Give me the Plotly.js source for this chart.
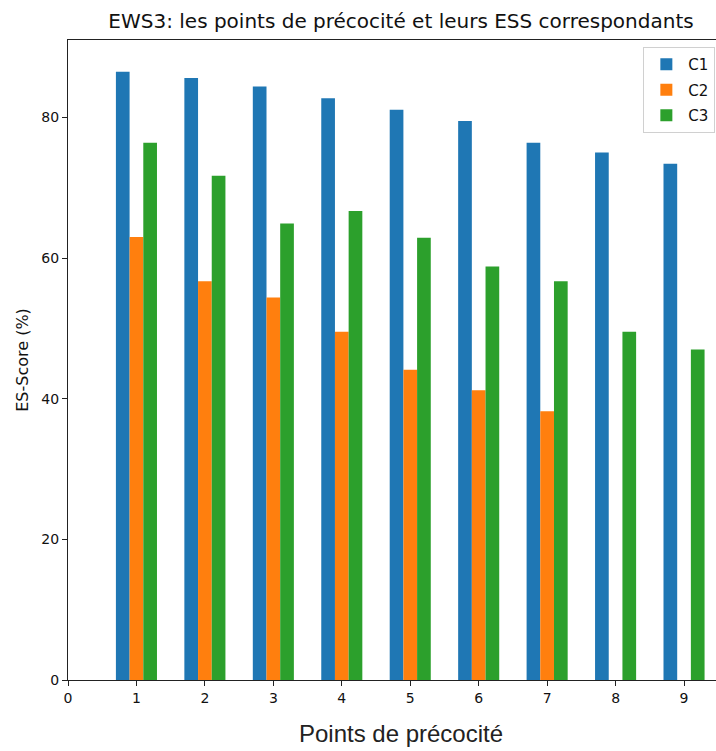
<!DOCTYPE html>
<html>
<head>
<meta charset="utf-8">
<script src="https://cdn.plot.ly/plotly-3.0.1.min.js"></script>
<style>
  html, body { margin: 0; padding: 0; overflow: hidden; background: #fff; }
  #chart { width: 760px; height: 751px; }
</style>
</head>
<body>
<div id="chart"></div>
<script>
const points = [1, 2, 3, 4, 5, 6, 7, 8, 9];
const c1 = [86.5, 85.6, 84.4, 82.7, 81.1, 79.5, 76.4, 75.0, 73.4];
const c2 = [63.0, 56.7, 54.4, 49.5, 44.1, 41.2, 38.2, null, null];
const c3 = [76.4, 71.7, 64.9, 66.7, 62.9, 58.8, 56.7, 49.5, 47.0];
const seriesNames = ['C1', 'C2', 'C3'];
const colors = ['#1f77b4', '#ff7f0e', '#2ca02c'];
const xTicks = [0, 1, 2, 3, 4, 5, 6, 7, 8, 9];
const yTicks = [0, 20, 40, 60, 80];

const series = [c1, c2, c3];
const traces = series.map((vals, i) => ({
  type: 'bar',
  name: seriesNames[i],
  legendgroup: 'g' + i,
  x: points,
  y: vals,
  marker: { color: colors[i], line: { width: 0 } },
  hoverinfo: 'x+y+name'
}));

const tickFont = { family: 'DejaVu Sans', size: 14, color: '#111' };

const layout = {
  width: 760,
  height: 751,
  margin: { l: 68, r: 26, t: 40, b: 71, pad: 0 },
  paper_bgcolor: '#fff',
  plot_bgcolor: '#fff',
  barmode: 'group',
  bargap: 0.4,
  bargroupgap: 0,
  showlegend: true,
  title: {
    text: 'EWS3: les points de précocité et leurs ESS correspondants',
    font: { family: 'DejaVu Sans', size: 20, color: '#111' },
    x: 0.5, xref: 'paper', xanchor: 'center',
    y: 0.972, yref: 'container', yanchor: 'middle'
  },
  xaxis: {
    range: [0, 9.73],
    tickmode: 'array',
    tickvals: xTicks,
    ticktext: xTicks.map(String),
    ticks: 'outside', ticklen: 5, tickwidth: 1, tickcolor: '#222',
    showgrid: false, zeroline: false,
    showline: true, linecolor: '#222', linewidth: 1, mirror: true,
    tickfont: tickFont,
    title: {
      text: 'Points de précocité',
      font: { family: 'Liberation Sans', size: 24, color: '#222' },
      standoff: 20
    }
  },
  yaxis: {
    range: [0, 91],
    tickmode: 'array',
    tickvals: yTicks,
    ticktext: yTicks.map(String),
    ticks: 'outside', ticklen: 5, tickwidth: 1, tickcolor: '#222',
    showgrid: false, zeroline: false,
    showline: true, linecolor: '#222', linewidth: 1, mirror: true,
    tickfont: tickFont,
    title: {
      text: 'ES-Score (%)',
      font: { family: 'DejaVu Sans', size: 16, color: '#111' },
      standoff: 8
    }
  },
  legend: {
    x: 0.972, xanchor: 'right', xref: 'paper',
    y: 0.989, yanchor: 'top', yref: 'paper',
    bgcolor: 'rgba(255,255,255,0.9)',
    bordercolor: '#d0d0d0', borderwidth: 1,
    font: { family: 'DejaVu Sans', size: 15, color: '#111' },
    traceorder: 'grouped',
    itemwidth: 34,
    tracegroupgap: 3
  }
};

Plotly.newPlot('chart', traces, layout, { staticPlot: true, displayModeBar: false });
</script>
</body>
</html>
